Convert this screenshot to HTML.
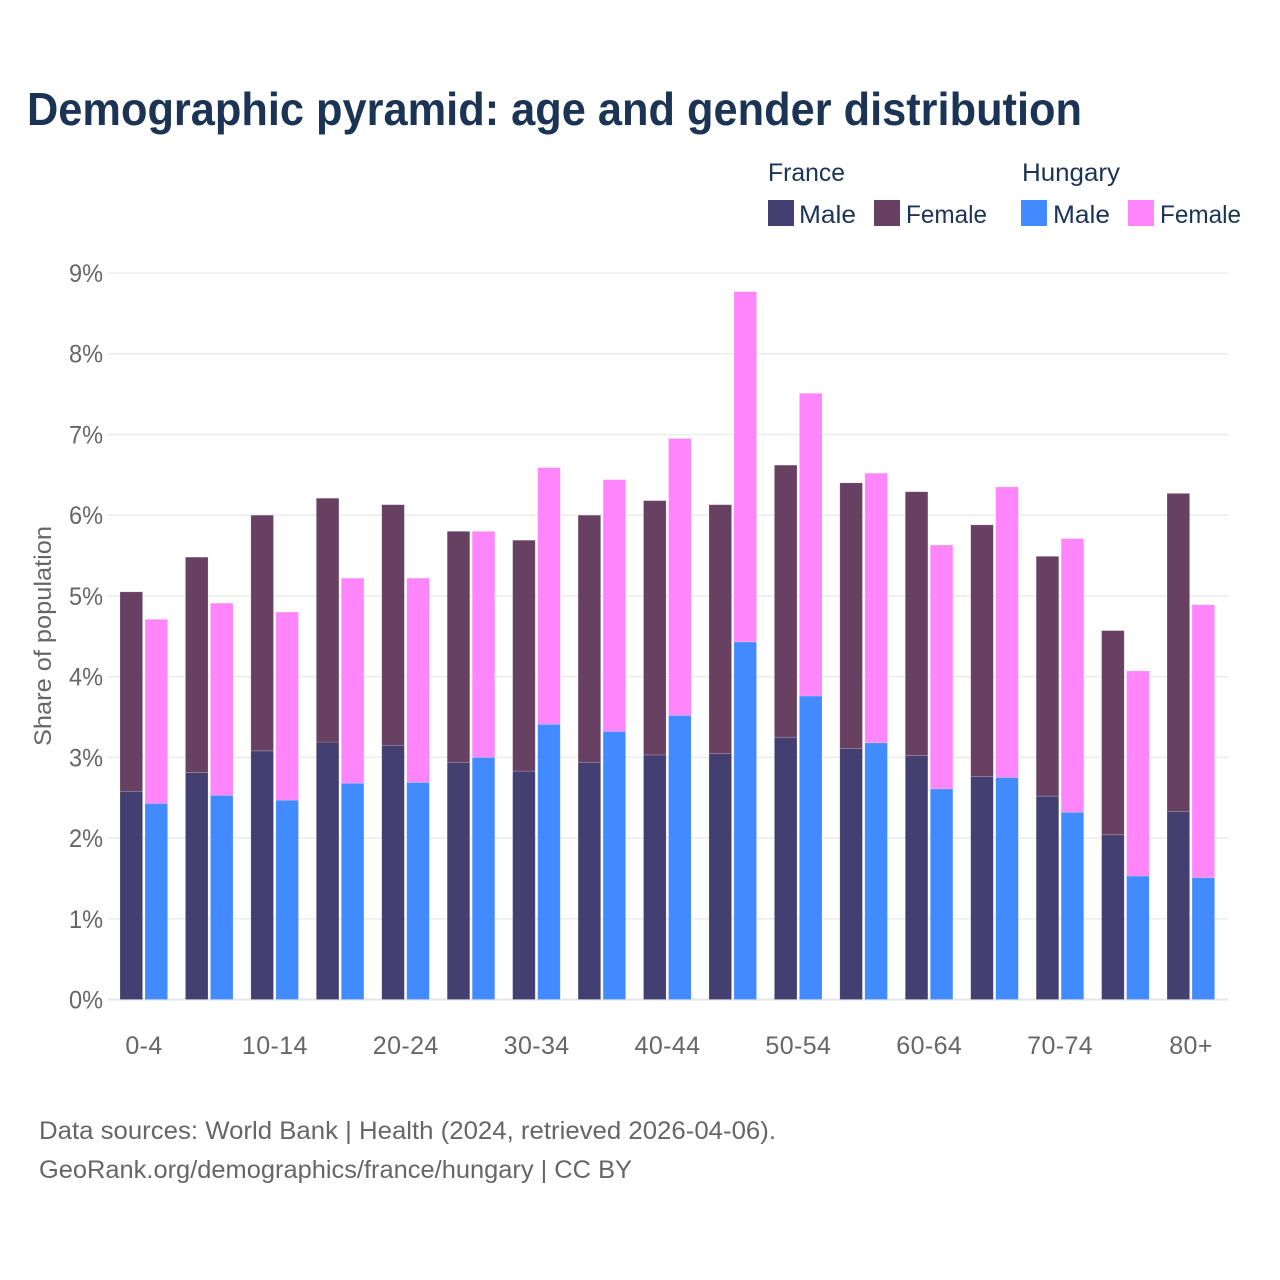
<!DOCTYPE html>
<html lang="en">
<head>
<meta charset="utf-8">
<title>Demographic pyramid: age and gender distribution</title>
<style>
html,body{margin:0;padding:0;background:#fff;width:1280px;height:1280px;overflow:hidden}
svg{display:block}
text{font-family:"Liberation Sans",sans-serif}
</style>
</head>
<body>
<svg id="chart" xmlns="http://www.w3.org/2000/svg" width="1280" height="1280" viewBox="0 0 1280 1280">
  <rect x="0" y="0" width="1280" height="1280" fill="#ffffff"/>
  <text x="27" y="125" font-size="46" font-weight="700" fill="#1b3455" textLength="1055" lengthAdjust="spacingAndGlyphs">Demographic pyramid: age and gender distribution</text>

  <g font-size="25" fill="#1b3455">
    <text x="768" y="181" textLength="77" lengthAdjust="spacingAndGlyphs">France</text>
    <text x="1022" y="181" textLength="98" lengthAdjust="spacingAndGlyphs">Hungary</text>
    <rect x="768" y="200" width="26" height="26" fill="#433f70"/>
    <text x="799" y="223" textLength="57" lengthAdjust="spacingAndGlyphs">Male</text>
    <rect x="874" y="200" width="26" height="26" fill="#674062"/>
    <text x="906" y="223" textLength="81" lengthAdjust="spacingAndGlyphs">Female</text>
    <rect x="1021" y="200" width="26" height="26" fill="#418aff"/>
    <text x="1053" y="223" textLength="57" lengthAdjust="spacingAndGlyphs">Male</text>
    <rect x="1128" y="200" width="26" height="26" fill="#ff85fb"/>
    <text x="1160" y="223" textLength="81" lengthAdjust="spacingAndGlyphs">Female</text>
  </g>

  <g id="grid"></g>
  <g id="y-axis"></g>
  <g id="bars"></g>
  <g id="x-axis"></g>

  <text transform="translate(51,636) rotate(-90)" text-anchor="middle" font-size="24" fill="#666666" textLength="220" lengthAdjust="spacingAndGlyphs">Share of population</text>

  <text x="39" y="1139" font-size="25" fill="#666666" textLength="737" lengthAdjust="spacingAndGlyphs">Data sources: World Bank | Health (2024, retrieved 2026-04-06).</text>
  <text x="39" y="1178" font-size="25" fill="#666666" textLength="593" lengthAdjust="spacingAndGlyphs">GeoRank.org/demographics/france/hungary | CC BY</text>
</svg>
<script>
var categories = ["0-4","5-9","10-14","15-19","20-24","25-29","30-34","35-39","40-44","45-49","50-54","55-59","60-64","65-69","70-74","75-79","80+"];
var xTickLabels = ["0-4","10-14","20-24","30-34","40-44","50-54","60-64","70-74","80+"];
var yTicks = [0,1,2,3,4,5,6,7,8,9];
var franceMale = [2.58,2.81,3.08,3.19,3.15,2.94,2.83,2.94,3.03,3.05,3.25,3.11,3.02,2.76,2.52,2.04,2.33];
var franceFemale = [2.47,2.67,2.92,3.02,2.98,2.86,2.86,3.06,3.15,3.08,3.37,3.29,3.27,3.12,2.97,2.53,3.94];
var hungaryMale = [2.43,2.53,2.47,2.68,2.69,3.00,3.41,3.32,3.52,4.43,3.76,3.18,2.61,2.75,2.32,1.53,1.51];
var hungaryFemale = [2.28,2.38,2.33,2.54,2.53,2.80,3.18,3.12,3.43,4.34,3.75,3.34,3.02,3.60,3.39,2.54,3.38];

var NS = 'http://www.w3.org/2000/svg';
function yScale(v){ return 999.5 - v * 80.72; }
function xScale(i){ return 144 + i * 65.44; }

var gridG = document.getElementById('grid');
var yAxisG = document.getElementById('y-axis');
var barsG = document.getElementById('bars');
var xAxisG = document.getElementById('x-axis');

yTicks.forEach(function(t){
  var line = document.createElementNS(NS,'line');
  
  
  line.setAttribute('x1', 108);
  line.setAttribute('x2', 1228);
  line.setAttribute('y1', yScale(t));
  line.setAttribute('y2', yScale(t));
  line.setAttribute('stroke', t === 0 ? '#e6e6e6' : '#ececec');
  line.setAttribute('stroke-width', t === 0 ? 2 : 1.5);
  gridG.appendChild(line);

  var label = document.createElementNS(NS,'text');
  
  
  label.setAttribute('x', 69);
  label.setAttribute('y', yScale(t) + 9);
  label.setAttribute('font-size', 25);
  label.setAttribute('fill', '#666666');
  label.setAttribute('textLength', 34);
  label.setAttribute('lengthAdjust', 'spacingAndGlyphs');
  label.textContent = t + '%';
  yAxisG.appendChild(label);
});

function addBar(x, base, value, color, name){
  var r = document.createElementNS(NS,'rect');
  
  
  r.setAttribute('x', x);
  r.setAttribute('y', yScale(base + value));
  r.setAttribute('width', 22.6);
  r.setAttribute('height', yScale(base) - yScale(base + value));
  r.setAttribute('fill', color);
  r.setAttribute('stroke', 'rgba(255,255,255,0.3)');
  r.setAttribute('stroke-width', 0.6);
  barsG.appendChild(r);
}

categories.forEach(function(cat, i){
  var c = xScale(i);
  addBar(c - 24, 0, franceMale[i], '#433f70', 'bar-france-male-' + cat);
  addBar(c - 24, franceMale[i], franceFemale[i], '#674062', 'bar-france-female-' + cat);
  addBar(c + 1, 0, hungaryMale[i], '#418aff', 'bar-hungary-male-' + cat);
  addBar(c + 1, hungaryMale[i], hungaryFemale[i], '#ff85fb', 'bar-hungary-female-' + cat);
});

xTickLabels.forEach(function(lbl){
  var t = document.createElementNS(NS,'text');
  
  
  t.setAttribute('x', xScale(categories.indexOf(lbl)));
  t.setAttribute('y', 1054);
  t.setAttribute('text-anchor', 'middle');
  t.setAttribute('font-size', 25);
  t.setAttribute('letter-spacing', 0.4);
  t.setAttribute('fill', '#666666');
  t.textContent = lbl;
  xAxisG.appendChild(t);
});
</script>
</body>
</html>
